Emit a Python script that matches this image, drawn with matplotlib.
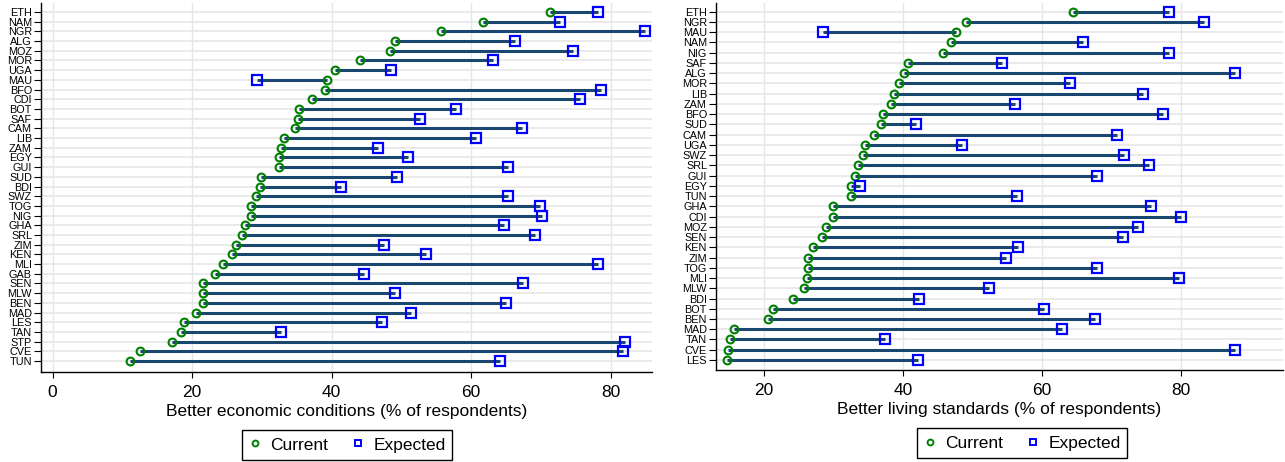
import matplotlib
matplotlib.use("Agg")
import matplotlib.pyplot as plt
from matplotlib.lines import Line2D

plt.rcParams['font.family'] = ['Liberation Sans', 'DejaVu Sans']

# ---- Left panel: Better economic conditions ----
econ_countries = ["ETH", "NAM", "NGR", "ALG", "MOZ", "MOR", "UGA", "MAU", "BFO", "CDI",
                  "BOT", "SAF", "CAM", "LIB", "ZAM", "EGY", "GUI", "SUD", "BDI", "SWZ",
                  "TOG", "NIG", "GHA", "SRL", "ZIM", "KEN", "MLI", "GAB", "SEN", "MLW",
                  "BEN", "MAD", "LES", "TAN", "STP", "CVE", "TUN"]
econ_current = [71.3, 61.7, 55.6, 49.1, 48.4, 44.0, 40.5, 39.3, 39.0, 37.2,
                35.3, 35.2, 34.7, 33.2, 32.7, 32.5, 32.4, 29.9, 29.8, 29.2,
                28.4, 28.4, 27.6, 27.1, 26.3, 25.7, 24.5, 23.3, 21.6, 21.6,
                21.5, 20.5, 18.8, 18.4, 17.1, 12.5, 11.1]
econ_expected = [78.2, 72.7, 84.9, 66.2, 74.6, 63.1, 48.5, 29.3, 78.6, 75.6,
                 57.8, 52.6, 67.3, 60.7, 46.7, 51.0, 65.3, 49.3, 41.3, 65.2,
                 69.9, 70.1, 64.7, 69.2, 47.5, 53.5, 78.2, 44.6, 67.4, 49.1,
                 65.0, 51.4, 47.2, 32.8, 82.1, 81.8, 64.1]

# ---- Right panel: Better living standards ----
living_countries = ["ETH", "NGR", "MAU", "NAM", "NIG", "SAF", "ALG", "MOR", "LIB", "ZAM",
                    "BFO", "SUD", "CAM", "UGA", "SWZ", "SRL", "GUI", "EGY", "TUN", "GHA",
                    "CDI", "MOZ", "SEN", "KEN", "ZIM", "TOG", "MLI", "MLW", "BDI", "BOT",
                    "BEN", "MAD", "TAN", "CVE", "LES"]
living_current = [64.5, 49.1, 47.7, 46.9, 45.8, 40.8, 40.1, 39.5, 38.8, 38.3,
                  37.2, 36.8, 35.9, 34.6, 34.3, 33.6, 33.2, 32.5, 32.6, 30.0,
                  30.0, 29.0, 28.4, 27.1, 26.4, 26.4, 26.3, 25.8, 24.3, 21.4,
                  20.7, 15.8, 15.2, 14.9, 14.7]
living_expected = [78.2, 83.2, 28.6, 65.9, 78.2, 54.3, 87.7, 64.0, 74.5, 56.1,
                   77.4, 41.9, 70.7, 48.5, 71.8, 75.3, 67.9, 33.9, 56.4, 75.7,
                   80.0, 73.8, 71.6, 56.5, 54.8, 67.9, 79.6, 52.4, 42.3, 60.3,
                   67.6, 62.8, 37.5, 87.7, 42.2]

econ_ticks = [0, 20, 40, 60, 80]
living_ticks = [20, 40, 60, 80]
legend_labels = ["Current", "Expected"]

LINE_C = "#1a476f"
CUR_C = "#008000"
EXP_C = "#0000ff"
GRID_C = "#e6e6e6"

W, H = 1285, 462
fig = plt.figure(figsize=(W / 100, H / 100), dpi=100)


def panel(rect, countries, cur, exp, ticks, xlim, ylim, xlabel):
    ax = fig.add_axes(rect)
    n = len(countries)
    ys = list(range(n))
    for y in ys:
        ax.axhline(y, color=GRID_C, lw=1.2, zorder=0)
    for t in ticks:
        ax.axvline(t, color=GRID_C, lw=1.0, zorder=0)
    ax.hlines(ys, cur, exp, color=LINE_C, lw=2.2, zorder=2)
    ax.plot(cur, ys, ls='none', marker='o', ms=5.6, mfc='none', mec=CUR_C, mew=1.5, zorder=3)
    ax.plot(exp, ys, ls='none', marker='s', ms=7.0, mfc='none', mec=EXP_C, mew=1.6, zorder=3)
    ax.set_xlim(*xlim)
    ax.set_ylim(*ylim)
    ax.set_yticks(ys)
    ax.set_yticklabels(countries, fontsize=7.8)
    ax.set_xticks(ticks)
    ax.set_xticklabels([str(t) for t in ticks], fontsize=12.5)
    ax.tick_params(axis='y', length=5, width=0.8, pad=1.5)
    ax.tick_params(axis='x', length=4.5, width=0.8, pad=5)
    ax.set_xlabel(xlabel, fontsize=12.5, labelpad=2.5)
    for s in ('top', 'right'):
        ax.spines[s].set_visible(False)
    for s in ('left', 'bottom'):
        ax.spines[s].set_linewidth(1.0)
        ax.spines[s].set_color('black')
    return ax


axL = panel([41 / W, 1 - 372 / H, (652 - 41) / W, (372 - 3) / H],
            econ_countries, econ_current, econ_expected, econ_ticks,
            (-1.65, 85.9), (36 + 1.13, -0.93),
            "Better economic conditions (% of respondents)")
axR = panel([716 / W, 1 - 370 / H, (1283 - 716) / W, (370 - 3) / H],
            living_countries, living_current, living_expected, living_ticks,
            (13.17, 94.6), (34 + 0.98, -0.85),
            "Better living standards (% of respondents)")

handles = [Line2D([], [], ls='none', marker='o', ms=4.2, mfc='none', mec=CUR_C, mew=1.4),
           Line2D([], [], ls='none', marker='s', ms=4.6, mfc='none', mec=EXP_C, mew=1.4)]

for cx, cy in [(347, 445), (1022, 443)]:
    leg = fig.legend(handles, legend_labels, loc='center', bbox_to_anchor=(cx / W, 1 - cy / H),
                     ncol=2, fontsize=12.5, frameon=True, fancybox=False,
                     edgecolor='black', framealpha=1, handlelength=0.7,
                     handletextpad=0.55, columnspacing=1.35, borderpad=0.4,
                     borderaxespad=0)
    leg.get_frame().set_linewidth(1.0)

fig.savefig("out.png", dpi=100)
